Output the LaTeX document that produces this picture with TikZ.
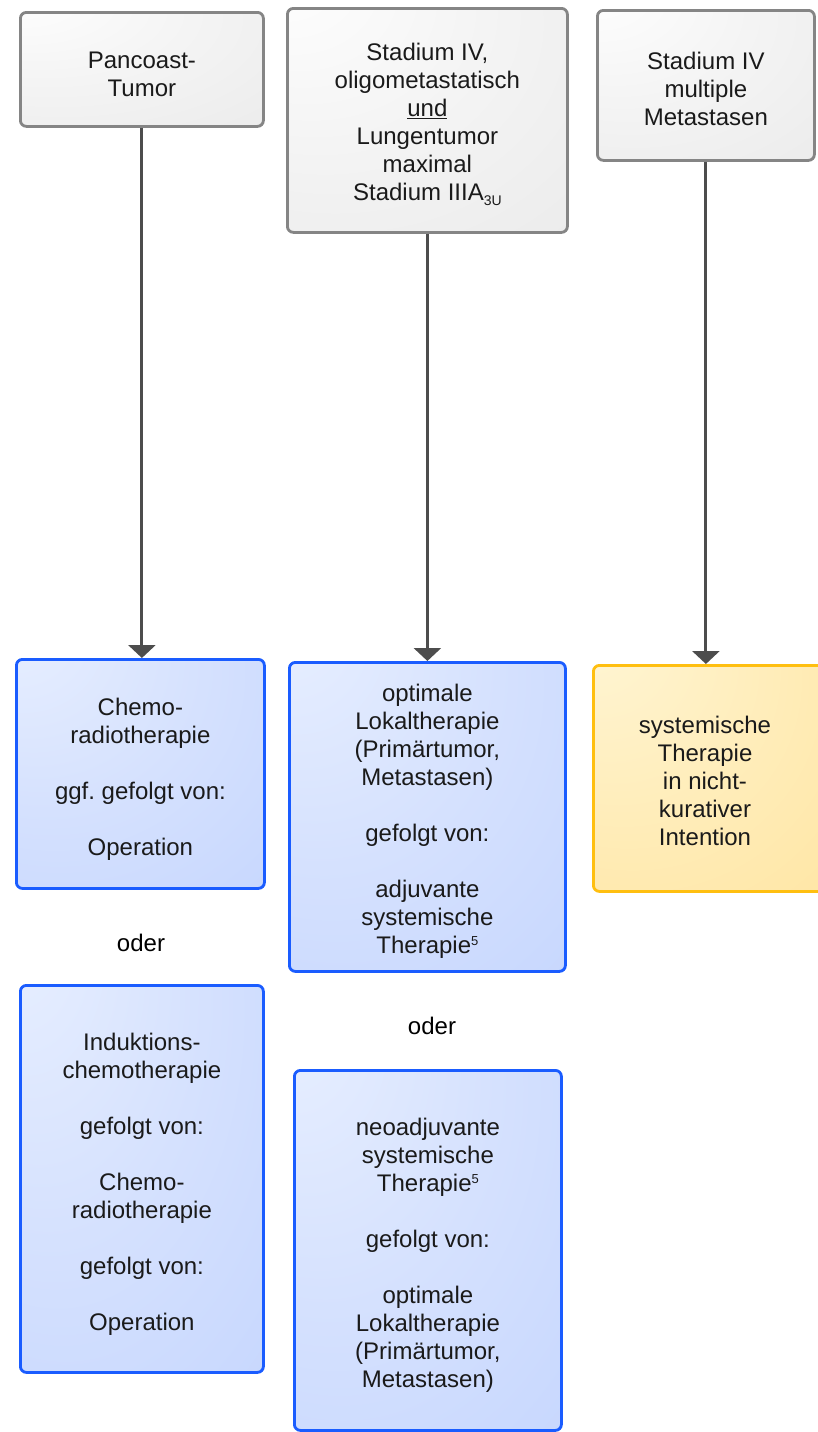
\documentclass[tikz,border=0pt]{standalone}
\usepackage{fontspec}
\setmainfont{Liberation Sans}
\usetikzlibrary{arrows.meta}
\frenchspacing

\definecolor{greyA}{HTML}{FFFFFF}
\definecolor{greyB}{HTML}{F4F4F4}
\definecolor{greyC}{HTML}{E6E6E6}
\definecolor{greyLine}{HTML}{858585}
\definecolor{blueA}{HTML}{E9F0FF}
\definecolor{blueB}{HTML}{D5E1FE}
\definecolor{blueC}{HTML}{BDD0FD}
\definecolor{blueLine}{HTML}{1A5CFF}
\definecolor{yelA}{HTML}{FFF6D6}
\definecolor{yelB}{HTML}{FFEDBA}
\definecolor{yelC}{HTML}{FFE196}
\definecolor{yelLine}{HTML}{FFBF10}
\definecolor{arrowGrey}{HTML}{4D4D4D}
\definecolor{ink}{HTML}{1A1A1A}

\pgfdeclareradialshading{greyglow}{\pgfpoint{-28bp}{35bp}}{color(0bp)=(greyA); color(30bp)=(greyB); color(75bp)=(greyC); color(100bp)=(greyC)}
\pgfdeclareradialshading{blueglow}{\pgfpoint{-28bp}{35bp}}{color(0bp)=(blueA); color(32bp)=(blueB); color(75bp)=(blueC); color(100bp)=(blueC)}
\pgfdeclareradialshading{yelglow}{\pgfpoint{-28bp}{35bp}}{color(0bp)=(yelA); color(32bp)=(yelB); color(75bp)=(yelC); color(100bp)=(yelC)}

\newcommand{\supfive}{\raisebox{0.62ex}{\fontsize{13}{13}\selectfont 5}}
\newcommand{\subthreeU}{\raisebox{-0.35ex}{\fontsize{14}{14}\selectfont 3U}}

\begin{document}
\begin{tikzpicture}[x=1pt,y=-1pt,
  box/.style={rectangle, rounded corners=6pt, line width=2.8pt, inner sep=0pt,
    anchor=north west},
  stagebox/.style={box, draw=greyLine, shading=greyglow},
  therapybox/.style={box, draw=blueLine, shading=blueglow},
  palliativebox/.style={box, draw=yelLine, shading=yelglow},
  boxtext/.style={inner sep=0pt, align=center, text=ink,
    font=\fontsize{24}{28}\selectfont},
  orlabel/.style={boxtext, text=black},
  flow/.style={draw=arrowGrey, line width=3pt,
    -{Triangle[width=27pt,length=13pt]}}]

\useasboundingbox (0,0) rectangle (817,1432);

% stage boxes
\node[stagebox, minimum width=243pt, minimum height=114pt] (pan) at (19,11) {};
\node[boxtext] (panT) at ([yshift=-5pt]pan.center) {Pancoast-\\Tumor};

\node[stagebox, minimum width=280pt, minimum height=224pt] (oligo) at (286,7) {};
\node[boxtext] (oligoT) at ([yshift=-4pt]oligo.center)
  {Stadium IV,\\oligometastatisch\\\underline{und}\\Lungentumor\\maximal\\Stadium IIIA\subthreeU};

\node[stagebox, minimum width=217pt, minimum height=150pt] (multi) at (596,9) {};
\node[boxtext] (multiT) at ([yshift=-4pt]multi.center) {Stadium IV\\multiple\\Metastasen};

% therapy boxes
\node[therapybox, minimum width=248pt, minimum height=229pt] (chemo) at (15,658) {};
\node[boxtext] (chemoT) at ([yshift=-5pt]chemo.center)
  {Chemo-\\radiotherapie\\[28pt]ggf. gefolgt von:\\[28pt]Operation};

\node[therapybox, minimum width=276pt, minimum height=309pt] (local) at (288,661) {};
\node[boxtext] (localT) at ([yshift=-4pt]local.center)
  {optimale\\Lokaltherapie\\(Primärtumor,\\Metastasen)\\[28pt]gefolgt von:\\[28pt]adjuvante\\systemische\\Therapie\supfive};

\node[palliativebox, minimum width=232pt, minimum height=226pt] (syst) at (592,664) {};
\node[boxtext] (systT) at (705,781) {systemische\\Therapie\\in nicht-\\kurativer\\Intention};

\node[therapybox, minimum width=243pt, minimum height=387pt] (induct) at (19,984) {};
\node[boxtext] (inductT) at ([yshift=-5pt]induct.center)
  {Induktions-\\chemotherapie\\[28pt]gefolgt von:\\[28pt]Chemo-\\radiotherapie\\[28pt]gefolgt von:\\[28pt]Operation};

\node[therapybox, minimum width=267pt, minimum height=360pt] (neo) at (293,1069) {};
\node[boxtext] (neoT) at ([yshift=-5pt]neo.center)
  {neoadjuvante\\systemische\\Therapie\supfive\\[28pt]gefolgt von:\\[28pt]optimale\\Lokaltherapie\\(Primärtumor,\\Metastasen)};

% alternatives
\node[orlabel] (or1) at (141,943) {oder};
\node[orlabel] (or2) at (432,1026) {oder};

% connectors
\draw[flow] (pan.south) -- (pan.south |- chemo.north);
\draw[flow] (oligo.south) -- (oligo.south |- local.north);
\draw[flow] (multi.south) -- (multi.south |- syst.north);

\end{tikzpicture}
\end{document}
